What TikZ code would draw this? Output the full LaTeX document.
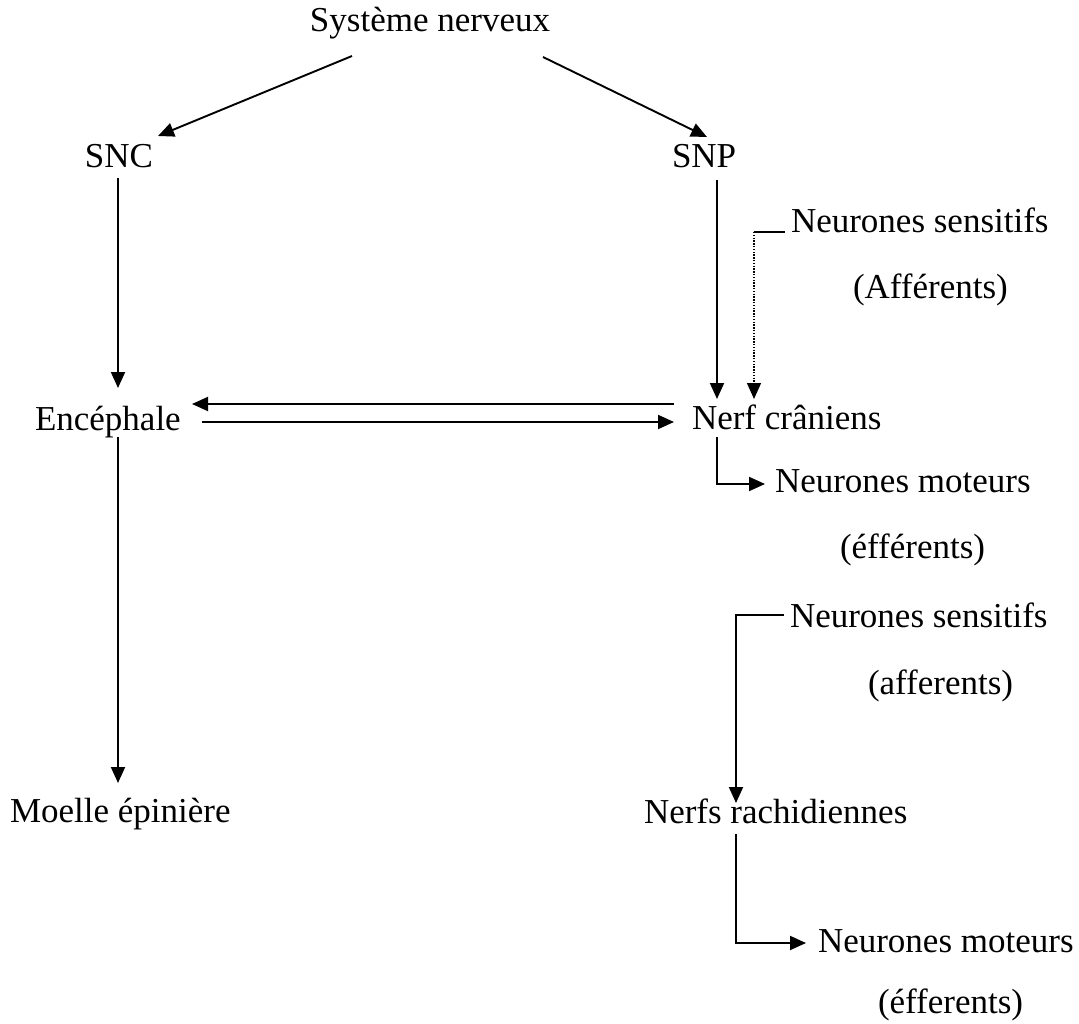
\documentclass[tikz,border=0pt]{standalone}
\usepackage{fontspec}
\setmainfont{Liberation Serif}
\usetikzlibrary{arrows.meta,calc}
\begin{document}
\begin{tikzpicture}[x=1pt,y=-1pt,
  lbl/.style={inner sep=0pt,outer sep=0pt,anchor=base west,font=\fontsize{35}{42}\selectfont},
  clbl/.style={lbl,anchor=base},
  arr/.style={line width=1.9pt,-{Triangle[length=16pt,width=14pt]}},
  ln/.style={line width=1.9pt},
  dotln/.style={line width=1.4pt,dash pattern=on 1.4pt off 1.4pt,-{Triangle[length=16pt,width=14pt]}}]
\fill[white] (0,0) rectangle (1079,1024);
\useasboundingbox (0,0) rectangle (1079,1024);

\node[clbl] (sys) at (430,32) {Système nerveux};
\node[clbl] (snc) at (119,168) {SNC};
\node[lbl] (snp) at (672,168) {SNP};
\node[lbl] (ns1) at (791,233) {Neurones sensitifs};
\node[lbl] (aff1) at (853,299) {(Afférents)};
\node[lbl] (enc) at (35,430) {Encéphale};
\node[lbl] (nc) at (692,429) {Nerf crâniens};
\node[lbl] (nm1) at (775,492) {Neurones moteurs};
\node[lbl] (eff1) at (840,558) {(éfférents)};
\node[lbl] (ns2) at (790,627) {Neurones sensitifs};
\node[lbl] (aff2) at (868,694) {(afferents)};
\node[lbl] (moe) at (10,822) {Moelle épinière};
\node[lbl] (nr) at (644,823) {Nerfs rachidiennes};
\node[lbl] (nm2) at (818,952) {Neurones moteurs};
\node[lbl] (eff2) at (878,1013) {(éfferents)};

% top branches
\draw[arr] ($(sys.base)+(-78,24)$) -- ($(snc.base)+(39,-32)$);
\draw[arr] ($(sys.base)+(113,25)$) -- ($(snp.base west)+(35,-31)$);
% vertical trunks
\draw[arr] ($(snc.base)+(-1,10)$) -- ($(enc.base west)+(83,-42)$);
\draw[arr] ($(snp.base west)+(45,12)$) -- ($(nc.base west)+(25,-30)$);
% sensitive neurons (dotted)
\coordinate (b1) at ($(nc.base west)+(62,-197)$);
\draw[ln] ($(ns1.base west)+(-6,-1)$) -- (b1);
\draw[dotln] (b1) -- ($(nc.base west)+(62,-30)$);
% double arrows
\draw[arr] ($(nc.base west)+(-18,-25)$) -- ($(enc.base west)+(157,-26)$);
\draw[arr] ($(enc.base west)+(167,-8)$) -- ($(nc.base west)+(-18,-7)$);
% encephale to moelle
\draw[arr] ($(enc.base west)+(83,7)$) -- ($(moe.base west)+(108,-39)$);
% nerf craniens to motor neurons
\draw[arr] ($(nc.base west)+(25,8)$) |- ($(nm1.base west)+(-10,-8)$);
% sensitive neurons to nerfs rachidiennes
\draw[arr] ($(ns2.base west)+(-6,-12)$) -| ($(nr.base west)+(92,-20)$);
% nerfs rachidiennes to motor neurons
\draw[arr] ($(nr.base west)+(92,11)$) |- ($(nm2.base west)+(-12,-9)$);
\end{tikzpicture}
\end{document}
